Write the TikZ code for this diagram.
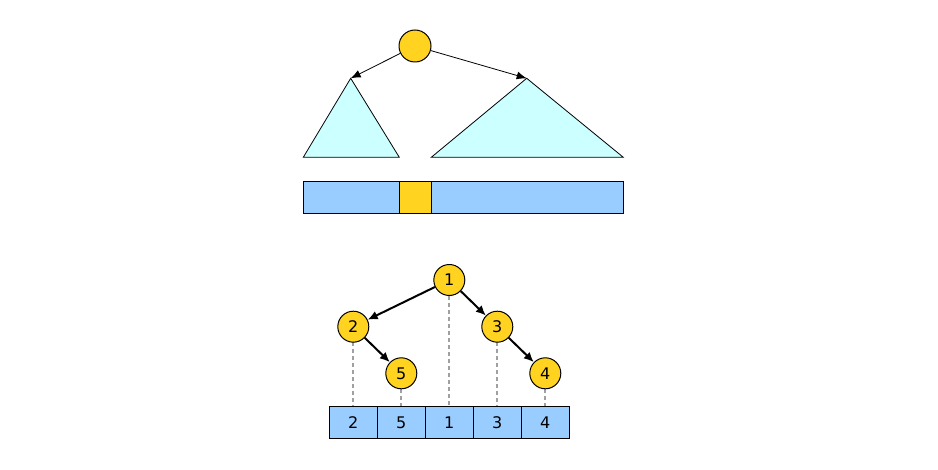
\documentclass[tikz,border=0pt]{standalone}
\usepackage{fontspec}
\setmainfont{DejaVu Sans}
\usetikzlibrary{arrows.meta}
\definecolor{ylw}{HTML}{FFD320}
\definecolor{cyn}{HTML}{CCFFFF}
\definecolor{blu}{HTML}{99CCFF}
\definecolor{gd}{HTML}{A0A0A0}
\tikzset{
  ynode/.style={circle,draw=black,fill=ylw,line width=1pt,minimum size=31pt,inner sep=0pt,font=\fontsize{16}{16}\selectfont},
  cell/.style={rectangle,draw=black,fill=blu,line width=1pt,minimum width=48pt,minimum height=31.6pt,inner sep=0pt,font=\fontsize{16}{16}\selectfont},
  tri/.style={draw=black,fill=cyn,line width=0.8pt},
  thinarr/.style={-{Latex[length=10pt,width=8pt]},line width=0.8pt},
  thickarr/.style={-{Latex[length=10pt,width=9pt]},line width=2pt},
  guide/.style={draw=gd,line width=2pt,dash pattern=on 4pt off 3pt}
}
\begin{document}
\begin{tikzpicture}[x=1pt,y=-1pt]
\useasboundingbox (0,0) rectangle (938,470);
% top part
\node[ynode,minimum size=32pt] (r) at (415,46) {};
\coordinate (la) at (350.7,78.3);
\coordinate (ra) at (526.7,78.3);
\draw[tri] (la) -- (399.3,157.3) -- (303.3,157.3) -- cycle;
\draw[tri] (ra) -- (623.3,157.3) -- (431.3,157.3) -- cycle;
\draw[thinarr] (r) -- (la);
\draw[thinarr] (r) -- (ra);
\draw[fill=blu,line width=1pt] (303.3,181.7) rectangle (623.3,213.3);
\draw[fill=ylw,line width=1pt] (399.3,181.7) rectangle (431.3,213.3);
% bottom array
\node[cell] (c1) at (353.3,422.5) {2};
\node[cell] (c2) at (401.3,422.5) {5};
\node[cell] (c3) at (449.3,422.5) {1};
\node[cell] (c4) at (497.3,422.5) {3};
\node[cell] (c5) at (545.3,422.5) {4};
% dashed guides
\draw[guide] (449.3,296) -- (c3.north);
\draw[guide] (353.3,342.5) -- (c1.north);
\draw[guide] (497.3,342.5) -- (c4.north);
\draw[guide] (401.3,389) -- (c2.north);
\draw[guide] (545.3,389) -- (c5.north);
% tree
\node[ynode] (n1) at (449.3,280) {1};
\node[ynode] (n2) at (353.3,326.7) {2};
\node[ynode] (n3) at (497.3,326.7) {3};
\node[ynode] (n5) at (401.3,373.3) {5};
\node[ynode] (n4) at (545.3,373.3) {4};
\draw[thickarr] (n1) -- (n2);
\draw[thickarr] (n1) -- (n3);
\draw[thickarr] (n2) -- (n5);
\draw[thickarr] (n3) -- (n4);
\end{tikzpicture}
\end{document}
